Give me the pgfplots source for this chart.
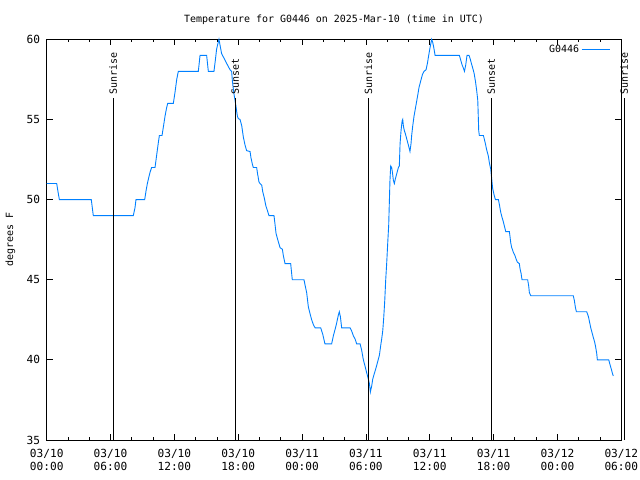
\documentclass[border=0pt]{standalone}
\usepackage{fontspec}
\setmainfont{DejaVu Sans Mono}
\usepackage{pgfplots}
\pgfplotsset{compat=1.18}
\definecolor{gblue}{RGB}{0,128,255}
\begin{document}
\begin{tikzpicture}[font=\fontsize{10}{12}\selectfont]
\useasboundingbox (0,0) rectangle (640bp,480bp);
\begin{axis}[
  at={(46.7bp,40bp)}, anchor=south west,
  scale only axis, width=574.6bp, height=400.7bp,
  xmin=0, xmax=54, ymin=35, ymax=60,
  xtick={0,6,12,18,24,30,36,42,48,54},
  xticklabels={{03/10\\00:00},{03/10\\06:00},{03/10\\12:00},{03/10\\18:00},{03/11\\00:00},{03/11\\06:00},{03/11\\12:00},{03/11\\18:00},{03/12\\00:00},{03/12\\06:00}},
  minor x tick num=2,
  ytick={35,40,45,50,55,60},
  tick align=inside,
  major tick length=6bp, minor tick length=3bp,
  tick style={black, line width=0.8bp},
  axis line style={line width=0.8bp},
  xticklabel style={align=center, font=\fontsize{11.2}{13}\selectfont, yshift=-6bp},
  yticklabel style={font=\fontsize{11.2}{13}\selectfont, xshift=-3bp},
  /pgf/number format/assume math mode=true,
  clip=false,
  title={Temperature for G0446 on 2025-Mar-10 (time in UTC)},
  title style={at={(axis description cs:0.5,1)}, anchor=center, yshift=14bp},
  ylabel={degrees F},
  ylabel style={at={(axis description cs:-0.063,0.5)}, anchor=center},
  legend style={draw=none, fill=none, at={(axis description cs:1,1)}, anchor=north east, xshift=-8bp, yshift=-2bp},
  legend plot pos=right,
  legend cell align=right,
  legend image code/.code={\draw[#1] (0bp,0bp) -- (28bp,0bp);},
]
\addplot[gblue, line width=0.9bp] table {
0.0 51
0.94 51
1.06 50.5
1.19 50
4.19 50
4.38 49
8.14 49
8.3 49.5
8.39 50
9.21 50
9.35 50.6
9.46 51
9.6 51.4
9.71 51.7
9.86 52
10.18 52
10.34 52.8
10.48 53.5
10.59 54
10.84 54
10.98 54.6
11.12 55.2
11.26 55.7
11.37 56
11.90 56
12.06 56.7
12.22 57.5
12.37 58
14.25 58
14.33 58.5
14.41 59
15.03 59
15.19 58
15.72 58
15.85 58.7
15.97 59.4
16.19 60
16.3 59.6
16.44 59.1
16.6 58.9
16.91 58.5
17.23 58.1
17.38 58
17.45 57.4
17.54 56.9
17.62 56.5
17.70 56.2
17.79 55.8
17.92 55.2
18.01 55.05
18.17 55
18.33 54.6
18.48 53.9
18.64 53.4
18.79 53.05
19.11 53
19.2 52.6
19.33 52.2
19.42 52
19.73 52
19.82 51.6
19.95 51.1
20.05 51
20.21 50.9
20.3 50.5
20.45 50.1
20.6 49.6
20.75 49.3
20.89 49
21.36 49
21.45 48.5
21.55 47.9
21.67 47.6
21.80 47.3
21.93 47
22.15 46.9
22.24 46.5
22.40 46
22.93 46
23.02 45.4
23.08 45
24.18 45
24.30 44.6
24.43 44.2
24.59 43.3
24.74 42.9
24.90 42.5
25.06 42.2
25.22 42
25.75 42
25.94 41.6
26.15 41
26.78 41
26.94 41.5
27.10 41.9
27.25 42.3
27.41 42.8
27.50 43
27.60 42.7
27.72 42
28.51 42
28.66 41.8
28.82 41.5
28.98 41.3
29.13 41
29.45 41
29.60 40.6
29.76 40
29.92 39.6
30.07 39.2
30.23 38.8
30.33 38.5
30.42 38
30.55 38.4
30.64 38.8
30.77 39.1
30.95 39.5
31.11 39.9
31.27 40.3
31.39 40.9
31.48 41.3
31.58 41.8
31.67 42.6
31.77 43.7
31.86 45
31.95 46
32.05 47.3
32.14 48.4
32.20 49.8
32.26 51.2
32.33 52.1
32.42 52
32.49 51.7
32.58 51.2
32.67 51
32.77 51.3
32.89 51.6
33.05 52
33.14 52.1
33.21 53.5
33.30 54.3
33.40 54.9
33.46 55
33.52 54.6
33.61 54.3
33.71 54.1
33.83 53.8
33.99 53.4
34.14 53
34.24 53.5
34.30 54
34.40 54.6
34.52 55.2
34.68 55.8
34.84 56.4
34.99 57
35.15 57.4
35.31 57.8
35.46 58
35.65 58.1
35.78 58.5
35.90 59
36.03 59.5
36.18 60
36.28 59.8
36.40 59.4
36.50 59
38.78 59
38.91 58.7
39.04 58.4
39.16 58.2
39.26 58
39.38 58.4
39.50 59
39.69 59
39.79 58.8
39.91 58.5
40.04 58.2
40.16 57.9
40.29 57.4
40.41 56.8
40.51 56.2
40.54 55.6
40.60 54.3
40.66 54
41.04 54
41.19 53.6
41.35 53.1
41.51 52.7
41.60 52.3
41.73 51.9
41.82 51.3
41.91 50.7
42.04 50.3
42.17 50
42.45 50
42.54 49.7
42.67 49.2
42.79 48.9
42.92 48.6
43.07 48.2
43.14 48
43.48 48
43.54 47.7
43.61 47.3
43.70 47
43.76 46.9
43.86 46.7
44.01 46.5
44.11 46.3
44.23 46.1
44.42 46
44.48 45.7
44.58 45.4
44.67 45
45.20 45
45.30 44.6
45.36 44.2
45.49 44
49.49 44
49.59 43.7
49.68 43.3
49.78 43
50.75 43
50.91 42.7
51.13 42
51.25 41.7
51.37 41.4
51.50 41.1
51.59 40.8
51.69 40.4
51.75 40
52.82 40
52.94 39.7
53.07 39.4
53.19 39.1
53.25 39
};
\addlegendentry{G0446}
\addplot[black, line width=0.8bp, forget plot] coordinates {(6.25,35) (6.25,56.34)};
\addplot[black, line width=0.8bp, forget plot] coordinates {(17.72,35) (17.72,56.34)};
\addplot[black, line width=0.8bp, forget plot] coordinates {(30.23,35) (30.23,56.34)};
\addplot[black, line width=0.8bp, forget plot] coordinates {(41.78,35) (41.78,56.34)};
\addplot[black, line width=0.8bp, forget plot] coordinates {(54.28,35) (54.28,56.34)};
\node[rotate=90, anchor=west] at (axis cs:6.25,56.34) {Sunrise};
\node[rotate=90, anchor=west] at (axis cs:17.72,56.34) {Sunset};
\node[rotate=90, anchor=west] at (axis cs:30.23,56.34) {Sunrise};
\node[rotate=90, anchor=west] at (axis cs:41.78,56.34) {Sunset};
\node[rotate=90, anchor=west] at (axis cs:54.28,56.34) {Sunrise};
\end{axis}
\end{tikzpicture}
\end{document}
